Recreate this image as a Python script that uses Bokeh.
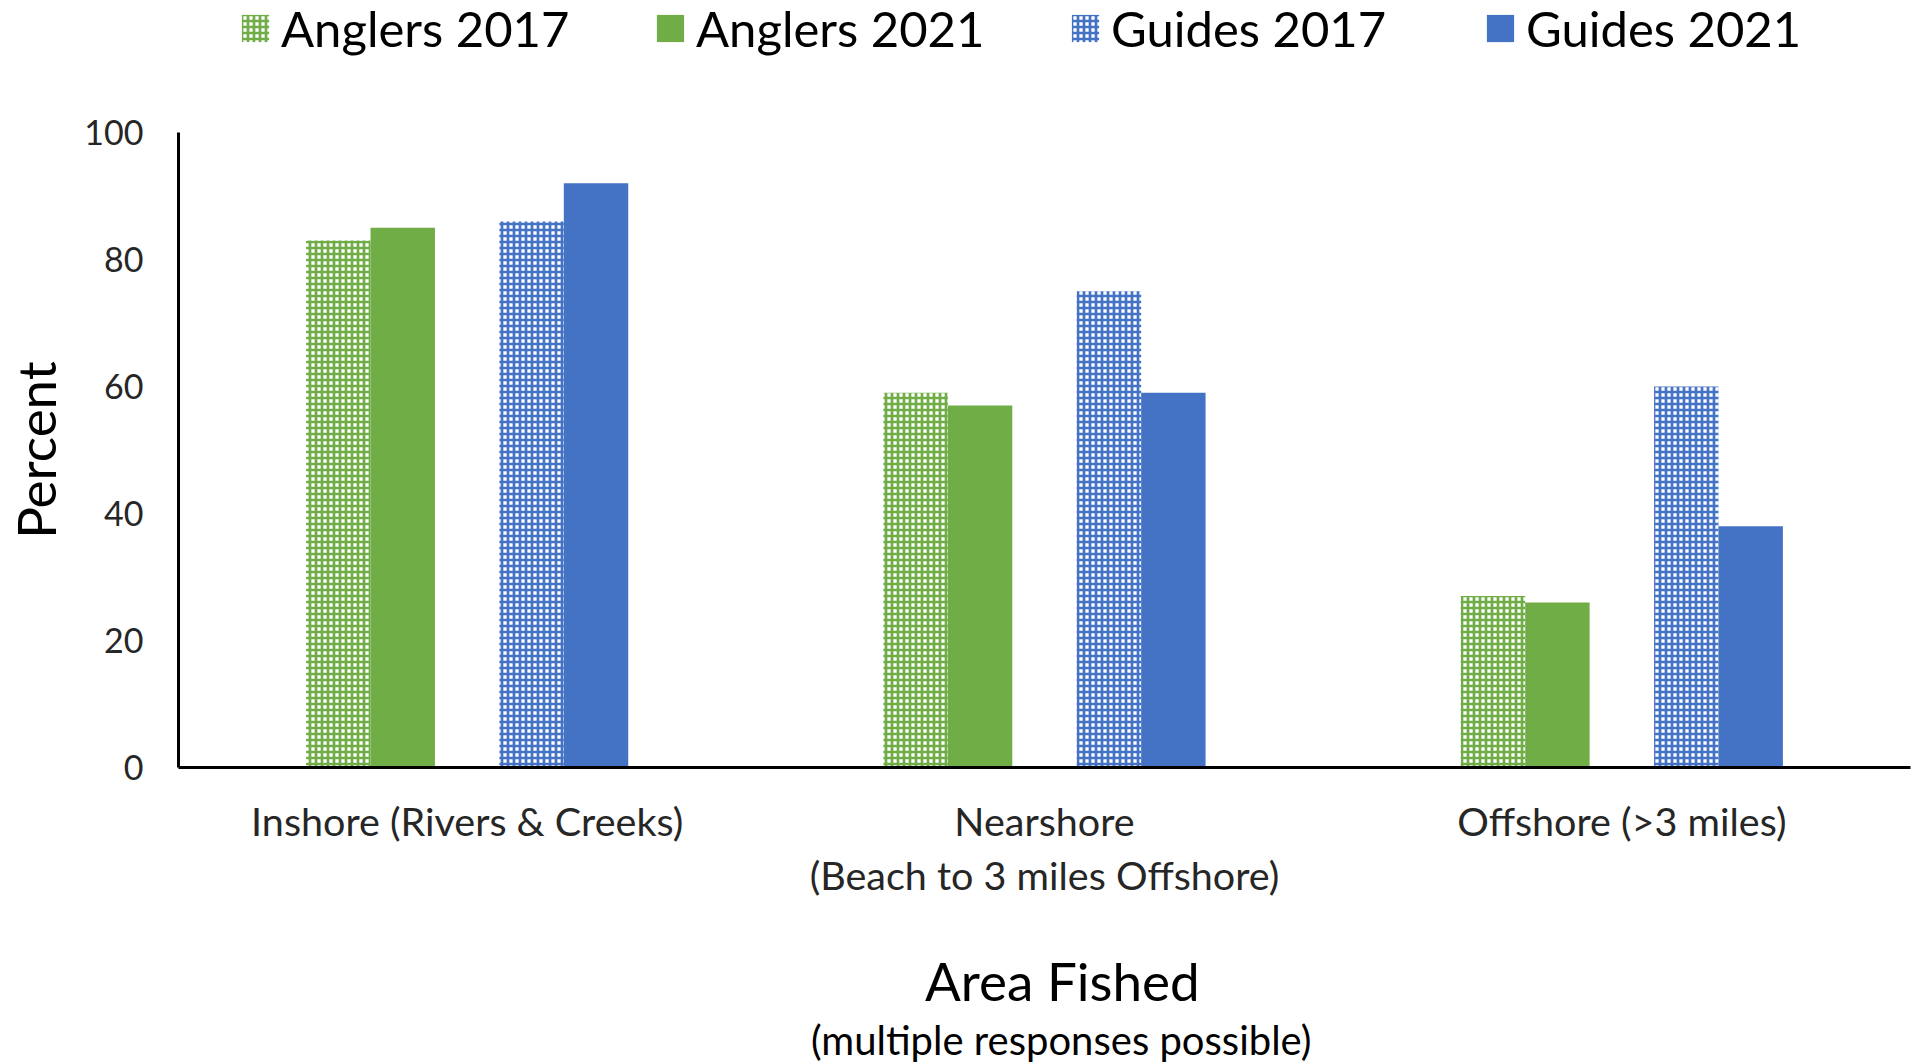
from bokeh.plotting import figure
from bokeh.layouts import column
from bokeh.models import (FactorRange, Range1d, Legend, LegendItem, Label,
                          FixedTicker, ColumnDataSource)
from bokeh.transform import dodge
from bokeh.embed import file_html
from bokeh.resources import INLINE

# ---- data ----
categories = ["Inshore (Rivers & Creeks)",
              "Nearshore\n(Beach to 3 miles Offshore)",
              "Offshore (>3 miles)"]
anglers_2017 = [83, 59, 27]
anglers_2021 = [85, 57, 26]
guides_2017 = [86, 75, 60]
guides_2021 = [92, 59, 38]
series_names = ["Anglers 2017", "Anglers 2021", "Guides 2017", "Guides 2021"]
y_ticks = [0, 20, 40, 60, 80, 100]
x_title = "Area Fished"
x_subtitle = "(multiple responses possible)"
y_title = "Percent"

GREEN = "#70AD47"
BLUE = "#4472C4"
FONT = "Lato"
TICK_COLOR = "#262626"

series_styles = [
    dict(fill_color="white", line_color=None, hatch_pattern="+", hatch_color=GREEN,
         hatch_scale=6, hatch_weight=2.7),
    dict(fill_color=GREEN, line_color=None),
    dict(fill_color="white", line_color=None, hatch_pattern="+", hatch_color=BLUE,
         hatch_scale=6, hatch_weight=2.7),
    dict(fill_color=BLUE, line_color=None),
]

src = ColumnDataSource(dict(cat=categories, a17=anglers_2017, a21=anglers_2021,
                            g17=guides_2017, g21=guides_2021))
cols = ["a17", "a21", "g17", "g21"]
w = 0.1116
offsets = [-2 * w, -w, w, 2 * w]

W = 1916
TOP_H = 64
MAIN_H = 853
BOT_H = 1062 - TOP_H - MAIN_H


def bare(fig):
    fig.outline_line_color = None
    fig.xgrid.visible = False
    fig.ygrid.visible = False
    return fig


# ---- legend strip (top) ----
# legend swatches come from the same data; the view window lies above the bars
top = bare(figure(width=W, height=TOP_H, output_backend="svg", toolbar_location=None,
                  x_range=FactorRange(factors=categories, range_padding=0),
                  y_range=Range1d(1000, 1001),
                  x_axis_type=None, y_axis_type=None, min_border=0))
legend_renderers = [top.vbar(x=dodge("cat", off, range=top.x_range), top=col, width=w,
                             source=src, **st)
                    for off, col, st in zip(offsets, cols, series_styles)]
legend = Legend(items=[LegendItem(label=n, renderers=[r])
                       for n, r in zip(series_names, legend_renderers)],
                orientation="horizontal", location=(60, 7))
legend.padding = 0
legend.margin = 0
legend.border_line_color = None
legend.background_fill_alpha = 0
legend.label_text_font = FONT
legend.label_text_font_size = "49px"
legend.label_text_color = "black"
legend.glyph_width = 34
legend.glyph_height = 34
legend.label_standoff = 9
legend.label_width = 325
legend.spacing = 47
top.add_layout(legend)

# ---- main chart ----
p = bare(figure(width=W, height=MAIN_H,
                x_range=FactorRange(factors=categories, range_padding=0),
                y_range=Range1d(0, 100), output_backend="svg", toolbar_location=None,
                min_border_left=178, min_border_right=6, min_border_top=132 - TOP_H,
                min_border_bottom=MAIN_H - (767 - TOP_H)))
for off, col, st in zip(offsets, cols, series_styles):
    p.vbar(x=dodge("cat", off, range=p.x_range), top=col, width=w, source=src, **st)

p.yaxis.ticker = FixedTicker(ticks=y_ticks)
for ax in (p.xaxis[0], p.yaxis[0]):
    ax.axis_line_color = "black"
    ax.axis_line_width = 3
    ax.major_tick_line_color = None
    ax.minor_tick_line_color = None
    ax.major_label_text_font = FONT
    ax.major_label_text_color = TICK_COLOR
p.yaxis.major_label_text_font_size = "34px"
p.yaxis.major_label_standoff = 29
p.yaxis.axis_label = y_title
p.yaxis.axis_label_text_font = FONT
p.yaxis.axis_label_text_font_size = "53px"
p.yaxis.axis_label_text_font_style = "normal"
p.yaxis.axis_label_text_color = "black"
p.yaxis.axis_label_standoff = 14

p.xaxis.major_label_text_font_size = "39.5px"
p.xaxis.major_label_standoff = 23
p.xaxis.major_label_text_line_height = 1.15

# ---- axis title strip (bottom) ----
bot = bare(figure(width=W, height=BOT_H, output_backend="svg", toolbar_location=None,
                  x_range=FactorRange(factors=categories, range_padding=0),
                  y_range=Range1d(0, BOT_H),
                  x_axis_type=None, y_axis_type=None, min_border=0))
bot.add_layout(Label(x=1.531, y=82, text=x_title, text_font=FONT,
                     text_font_size="53px", text_align="center", text_baseline="middle",
                     text_color="black"))
bot.add_layout(Label(x=1.529, y=23, text=x_subtitle, text_font=FONT,
                     text_font_size="40px", text_align="center", text_baseline="middle",
                     text_color="black"))

page = column(top, p, bot, spacing=0)
open("out.html", "w").write(file_html(page, INLINE))
